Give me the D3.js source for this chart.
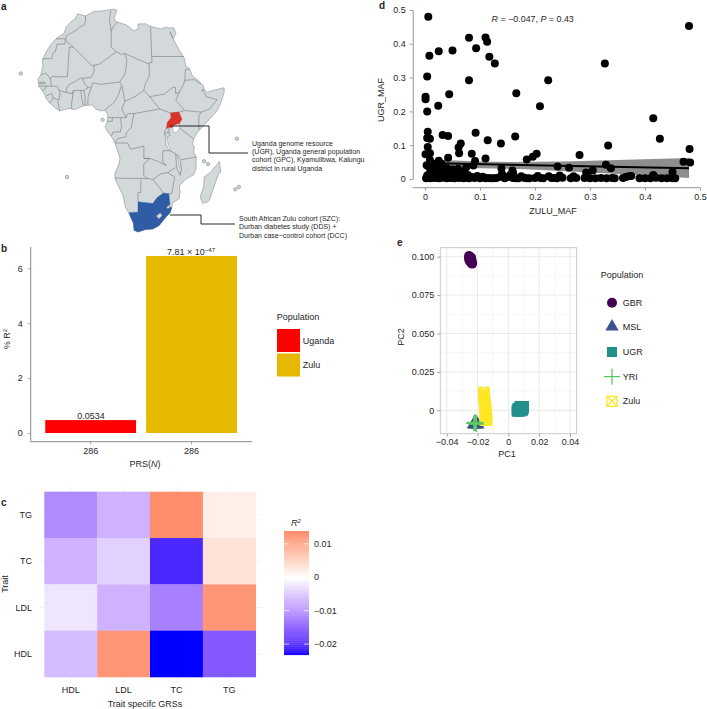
<!DOCTYPE html>
<html><head><meta charset="utf-8">
<script src="https://cdn.jsdelivr.net/npm/d3@7"></script>
<style>
html,body{margin:0;padding:0;background:#fff}
svg{display:block}
text{font-family:"Liberation Sans",Arial,sans-serif;fill:#262626}
</style></head><body>
<svg id="c" width="707" height="709"></svg>
<script>
// ---------- a: map data (lon, lat) ----------
const africaCoast=[[-5.9,35.8],[-2.2,35.1],[1,36.5],[5,36.8],[9.8,37.3],[11,37],[10.2,34.3],[11.1,33.2],[15.2,32.3],[18.5,30.3],[20,31],[20,32.5],[23,32.6],[25,31.7],[29,30.9],[31,31.5],[32.3,31.2],[34.2,31.3],[34.9,29.5],[33.6,27.8],[33,28.5],[32.6,30],[33.9,27],[35.5,24],[37,21.5],[37.3,19],[38.6,18],[39.5,15.5],[41.2,14.5],[43.2,12.5],[43.3,11.5],[44.5,10.4],[47,11.1],[51.2,11.9],[51,10.4],[49.7,7.5],[47.9,4.5],[45,1.8],[42,-1],[40.5,-2.5],[39.2,-4.7],[38.8,-6.5],[39.5,-7],[39.4,-9],[40.4,-10.5],[40.6,-14.5],[40,-16.2],[37,-17.8],[35,-19.8],[35.5,-22],[35.4,-24],[33,-25.4],[32.8,-27],[32.4,-28.6],[31,-29.9],[28.5,-32.7],[26,-33.8],[23,-34],[20,-34.8],[18.4,-34.2],[18.2,-32],[16.5,-28.6],[15.2,-26.8],[14.5,-22.9],[12,-18],[11.8,-16],[13.5,-12.5],[13.8,-10.8],[13,-8.5],[12.2,-6],[11,-3.9],[9.3,-1.8],[8.8,-0.7],[9.6,1],[9.8,3],[8.9,4.5],[7,4.4],[5.5,5],[4.4,6.3],[1.5,6.1],[-2,4.8],[-4,5.2],[-7.5,4.4],[-9,5.2],[-11.5,6.9],[-13.2,8.5],[-13.7,9.5],[-15,11],[-16.7,12.4],[-17.5,14.7],[-16.5,16],[-16.3,19],[-17,21],[-16,23.7],[-14.5,26.2],[-13,27.7],[-10,29.5],[-9.7,31.5],[-8,33.4],[-6.8,34],[-5.9,35.8]];
const countryBorders=[
[[-2.2,35.1],[-1.7,33.5],[-2,32.2],[-3.7,31.5],[-5,30.5],[-8.7,28.7],[-8.7,26],[-12,26],[-12,23.5],[-13,23],[-13,21.3],[-17,21.3]],
[[-8.7,27.7],[-13,27.7]],
[[-8.7,27.3],[-4.8,25],[-6.5,25],[-5.5,15.5],[-10,15.4],[-11.5,15.6],[-12.2,14.8],[-14.5,16.6],[-16.5,16]],
[[-12.2,14.8],[-11.4,12.4],[-16.7,12.4]],
[[-16.7,13.6],[-15,13.8],[-14,13.4],[-15,13.2],[-16.7,13.2]],
[[-13.7,12.6],[-13.7,11.7],[-15,11]],
[[-13.2,9.2],[-11,10],[-10.3,8.5],[-11.5,6.9]],
[[-10.3,8.5],[-8,8],[-7.7,10],[-8.2,11],[-9,12.3],[-11.4,12.4]],
[[-8,8],[-8.4,7.5],[-7.5,4.4]],
[[-8.2,11],[-5.5,10.4],[-5.4,11.8],[-4.3,13.2],[-3,13.6],[-2,14.2],[-0.5,15],[0.2,14.9],[3.5,15.3],[4.2,16.9],[4.2,19.2],[3.3,19],[-4.8,25]],
[[0.2,14.9],[1.3,13],[2.4,12.2],[2.3,11.7],[1,11],[0,11],[-2.8,11],[-3,10],[-5.5,10.4]],
[[-2.8,11],[-2.8,10],[-3.2,6.5],[-3,5]],
[[0,11],[0.5,8],[1.2,6.1]],
[[1,11],[1.6,9],[1.7,6.2]],
[[2.4,12.2],[3.6,11.7],[2.7,9],[2.7,6.3]],
[[3.6,11.7],[4,13.5],[7,13],[10,13.3],[13.6,13.7]],
[[4.2,19.2],[6,19.5],[12,23.5],[14,22.6],[15,23],[16,21],[15.5,16.5],[13.6,13.7]],
[[8.5,36.9],[8.3,34],[9.5,30.2],[10,25],[12,23.5]],
[[9.5,30.2],[10,31.5],[11.6,33.1]],
[[25,31.7],[25,20],[24,20],[24,19.5],[15,23]],
[[25,22],[36.9,22]],
[[24,19.5],[24,15.7],[22.5,13],[22,11],[19,9],[15.5,7.5],[15,10],[14.5,12.5],[13.6,13.7]],
[[14.2,12.5],[13.5,10],[11.8,7],[8.7,4.7]],
[[9.8,2.2],[16,2.2],[14.5,5],[15.5,7.5]],
[[11.3,2.2],[11.3,1],[9.6,1]],
[[14.2,2.2],[14.4,-1],[14,-2.4],[11.5,-2.5],[11,-3.9]],
[[16,2.2],[16.5,3.5],[18.6,3.5],[22.5,4.2],[27.4,5]],
[[18.6,3.5],[17.7,-1],[16.2,-2.5],[15.8,-4],[13.2,-4.6],[12.2,-5.8]],
[[22,11],[24,9],[27,9.5],[29,9.8],[32,12],[33,12],[33,10],[34.3,10.5]],
[[24,9],[27.4,5],[31,3.7],[34,4],[36,4.5],[33,7.8],[34.3,10.5],[36,13],[36.5,14.3],[37,17.7],[38.6,18]],
[[36.5,14.3],[40,14.5],[42.4,13]],
[[43.2,11.5],[42.4,11],[43,11],[44,9],[48,8],[45,5],[41.9,4],[36,4.5]],
[[41.9,4],[41,2.8],[41,-1.7]],
[[39.2,-4.7],[34,-1]],
[[29.6,-1.4],[29,-2.3],[29,-2.9],[30.5,-2.4],[30.5,-1]],
[[29,-2.9],[29.5,-4.5],[30.8,-3.5],[30.5,-2.4]],
[[29.5,-4.5],[29.5,-6.5],[31,-8.5],[33,-9.5],[34.5,-11.5],[40.4,-10.5]],
[[33,-9.5],[33.5,-14],[35,-16.5],[35.3,-14],[34.5,-11.5]],
[[31,-8.5],[28.5,-8.5],[28.5,-12],[29.8,-13.3],[27,-12],[24,-11],[22,-11]],
[[12.2,-6],[16.5,-6],[17.5,-8],[22,-7],[22,-11],[24,-11],[22,-13],[22,-16.5],[23.4,-17.5]],
[[11.8,-17.3],[14,-17.4],[23.4,-17.5],[25.3,-17.8],[28,-16],[30.4,-15.6],[33,-14]],
[[30.4,-15.6],[33,-17],[32.5,-22.3],[31.3,-22.4]],
[[25.3,-17.8],[29.3,-22.2]],
[[21,-18],[21,-22],[20,-22],[20,-25]]
];
const ugandaShape=[[31,3.7],[34,4],[35,1.7],[33.9,0],[33.9,-1],[30.5,-1],[29.6,-1.4],[29.9,0.6],[31.2,2.2]];
const southAfricaShape=[[16.5,-28.6],[18.2,-32],[18.4,-34.2],[20,-34.8],[23,-34],[26,-33.8],[28.5,-32.7],[31,-29.9],[32.4,-28.6],[32.9,-26.9],[32,-26.8],[32,-25.5],[31.3,-22.4],[29.3,-22.2],[27,-23.7],[25.5,-25.6],[23,-25.3],[20,-25],[20,-28.4],[17.5,-28.5]];
const lesothoShape=[[27.1,-29.6],[28.6,-28.6],[29.4,-29.5],[28.2,-30.6]];
const swazilandShape=[[30.9,-26.8],[31.9,-25.9],[32.1,-26.9],[31.3,-27.3]];
const madagascarShape=[[49.3,-12],[50.4,-15.5],[49.5,-16],[47.5,-24.5],[47,-25],[45,-25.5],[43.5,-23.5],[44.3,-20],[44,-17],[46,-15.7],[48,-13.5]];
const lakeVictoria=[[31.8,-0.4],[33.9,0.2],[34.2,-1],[33.4,-2.4],[32,-2.6]];
const lakeTanganyika=[[29.2,-3.4],[29.6,-3.4],[30,-5.5],[31,-8],[30.6,-8.4],[29.5,-6.5]];
const lakeMalawi=[[34,-9.8],[34.4,-10],[34.9,-13.5],[34.6,-14],[34.2,-12.5]];
const smallIslands=[[-26,16.5],[8,1.5],[43.4,-11.9],[45,-12.8],[55.7,-4.6],[-5.9,-17],[59.2,-20.2],[57.8,-21]];
const ugandaNote=["Uganda genome resource","(UGR), Uganda general population","cohort (GPC), Kyamulibwa, Kalungu","district in rural Uganda"];
const zuluNote=["South African Zulu cohort (SZC):","Durban diabetes study (DDS) +","Durban case\u2212control cohort (DCC)"];

// ---------- b ----------
const prsGroups=["Uganda","Zulu"];
const prsR2=[0.47,6.45];
const prsTicks=[0,2,4,6];
const prsColors=["#ff0000","#e6b800"];

// ---------- c ----------
const traits=["HDL","LDL","TC","TG"];
const heatRows={
 TG:[-0.0115,-0.0075,0.0135,0.002],
 TC:[-0.0075,-0.0045,-0.021,0.0035],
 LDL:[-0.0025,-0.0075,-0.0125,0.0125],
 HDL:[-0.0065,0.0125,-0.0232,-0.0165]};
const heatLegendTicks=[0.01,0,-0.01,-0.02];

// ---------- d ----------
const mafUpperX=[.006,.48,.11,.08,.113,.093,.025,.05,.008,.117,.127,.327,.004,.08,.224,.001,.001,.044,.166,.024,.209,.004,.415,.005,.032,.042,.092,.004,.009,.114,.164,.138,.427,.065,.061,.062,.005,.333,.481,.001,.009,.042,.085,.11,.281,.203,.196,.185,.47,.482,.003,.009,.025,.091,.088,.241,.262,.329,.338,.139,.159,.45,.305,.293,.015,.02,.03,.035,.012,.04,.05,.055,.06,.07,.075,.018,.028,.045,.065,.008,.016,.024,.033,.052,.068,.078,.14,.16,.02,.038];
const mafUpperY=[.48,.453,.419,.418,.406,.387,.378,.38,.365,.362,.342,.342,.303,.292,.292,.243,.236,.251,.254,.217,.215,.2,.18,.14,.13,.127,.137,.121,.119,.115,.126,.105,.119,.105,.093,.076,.095,.099,.089,.073,.076,.063,.075,.061,.071,.075,.066,.058,.051,.049,.041,.056,.054,.053,.04,.037,.033,.042,.032,.031,.025,.021,.025,.019,.03,.04,.045,.02,.022,.032,.028,.018,.03,.022,.035,.012,.025,.016,.015,.034,.045,.018,.012,.014,.02,.012,.015,.018,.03,.012];
const mafLowX=[.002,.004,.006,.008,.01,.012,.015,.018,.02,.023,.026,.03,.033,.036,.04,.043,.047,.05,.054,.058,.062,.066,.07,.075,.08,.085,.09,.095,.1,.105,.11,.12,.13,.137,.145,.15,.155,.16,.165,.175,.18,.185,.19,.205,.21,.215,.225,.23,.24,.245,.25,.265,.27,.275,.29,.295,.3,.31,.32,.33,.34,.345,.36,.365,.37,.375,.39,.4,.41,.415,.42,.43,.44,.45,.455,.125,.115,.17,.2,.235];
const mafLowY=[.002,.01,.003,.015,.002,.012,.004,.018,.003,.01,.002,.014,.004,.008,.002,.012,.003,.006,.002,.011,.003,.007,.002,.004,.002,.006,.003,.009,.002,.007,.002,.002,.003,.007,.002,.006,.012,.003,.002,.008,.004,.002,.002,.009,.003,.002,.008,.003,.002,.01,.004,.002,.008,.003,.003,.01,.002,.002,.003,.002,.003,.002,.003,.006,.008,.009,.002,.002,.002,.012,.004,.002,.002,.002,.002,.002,.003,.002,.003,.003];
const fitX=[0,.48];
const fitY=[.047,.032];
const bandX=[.03,.1,.16,.25,.35,.48];
const bandTop=[.056,.052,.05,.052,.056,.062];
const bandBottom=[.036,.032,.03,.024,.015,.003];
const mafTicks=[0,.1,.2,.3,.4,.5];

// ---------- e ----------
const popNames=["GBR","MSL","UGR","YRI","Zulu"];
const popColors=["#440154","#3b528b","#21908c","#5dc863","#fde725"];
const pcGBR=[[-.0255,.1005],[-.0255,.099],[-.0252,.0975],[-.0245,.0985],[-.0245,.0965],[-.024,.096],[-.0242,.0995],[-.0238,.0975],[-.0235,.0955]];
const pcMSL=[[-.0227,-.0093],[-.0198,-.0093],[-.0212,-.0076],[-.0205,-.0085],[-.022,-.0088],[-.0212,-.0093]];
const pcUGR=[[.0054,.0005],[.0054,-.0009],[.006,.0015],[.0072,.0028],[.0085,.0028],[.0101,.0028],[.0101,.001],[.0095,-.0003],[.008,-.0009],[.0066,-.0009],[.0075,.0012]];
const pcYRI=[[-.0224,-.0085],[-.0216,-.0085],[-.021,-.0082],[-.0218,-.0078],[-.0208,-.009]];
const pcZulu=[[-.0158,.0117],[-.0158,.0105],[-.0157,.0095],[-.0156,.0085],[-.0155,.0075],[-.0155,.0065],[-.0154,.0055],[-.0153,.0045],[-.0152,.0035],[-.0152,.0025],[-.0151,.0015],[-.015,.0005],[-.0149,-.0005],[-.0148,-.0015],[-.0147,-.0025],[-.0145,-.0035],[-.0144,-.0045],[-.0142,-.0055],[-.014,-.0063],[-.0146,-.0063],[-.0152,-.0063],[-.0143,-.002],[-.0146,.001]];
const pcTicksX=[-.04,-.02,0,.02,.04];
const pcTicksY=[0,.025,.05,.075,.1];

const svg=d3.select("#c");
const fmtMinus=s=>String(s).replace("-","\u2212");
const label=(g,x,y,t,o={})=>g.append("text").attr("x",x).attr("y",y).attr("font-size",o.size||9).attr("text-anchor",o.anchor||"start")
  .attr("dominant-baseline","central").attr("font-weight",o.weight||null).attr("font-style",o.style||null)
  .attr("transform",o.rot?`rotate(${o.rot} ${x} ${y})`:null).text(t);
function styleAxis(g,col,sw){g.selectAll("path.domain").attr("stroke",col).attr("stroke-width",sw);g.selectAll(".tick line").attr("stroke",col).attr("stroke-width",.7);g.selectAll("text").attr("font-size",9).attr("font-family",'"Liberation Sans",Arial,sans-serif').attr("fill","#262626");}

// panel letters
[["a",1,6],["b",1,248],["c",1,502],["d",379,5],["e",397,242]].forEach(d=>label(svg,d[1],d[2],d[0],{size:10,weight:"bold"}));

// ---------- map ----------
(function(){
 const rad=Math.PI/180, l0=20, Rx=170;
 const lat=d3.scaleLinear().domain([-34.8,11.8]).range([232,88]);
 const lonX=(x,y)=>138+Rx*Math.cos(y*rad)*Math.sin((x-l0)*rad);
 const tf=d3.geoTransform({point(x,y){this.stream.point(lonX(x,y),lat(y));}});
 const path=d3.geoPath(tf);
 const g=svg.append("g");
 const poly=c=>({type:"Polygon",coordinates:[c.concat([c[0]])]});
 const lines={type:"MultiLineString",coordinates:countryBorders};
 const mapFill="#d3d8da",mapStroke="#6c7174";
 g.append("path").attr("d",path(poly(africaCoast))).attr("fill",mapFill);
 g.append("path").attr("d",path(lines)).attr("fill","none").attr("stroke",mapStroke).attr("stroke-width",.55);
 g.append("path").attr("d",path(poly(africaCoast))).attr("fill","none").attr("stroke",mapStroke).attr("stroke-width",.45);
 g.append("path").attr("d",path(poly(madagascarShape))).attr("fill",mapFill).attr("stroke",mapStroke).attr("stroke-width",.45);
 g.append("path").attr("d",path(poly(southAfricaShape))).attr("fill","#2f5ca5").attr("stroke","#2f5ca5").attr("stroke-width",.4);
 [lesothoShape,swazilandShape].forEach(s=>g.append("path").attr("d",path(poly(s))).attr("fill",mapFill).attr("stroke",mapStroke).attr("stroke-width",.4));
 g.append("path").attr("d",path(poly(ugandaShape))).attr("fill","#d9342b").attr("stroke","#d9342b").attr("stroke-width",.3);
 g.append("path").attr("d",path(poly(lakeVictoria))).attr("fill","#fff").attr("stroke",mapStroke).attr("stroke-width",.3);
 [lakeTanganyika,lakeMalawi].forEach(s=>g.append("path").attr("d",path(poly(s))).attr("fill","#eef0f1").attr("stroke",mapStroke).attr("stroke-width",.3));
 g.selectAll("circle").data(smallIslands).join("circle").attr("cx",d=>lonX(d[0],d[1])).attr("cy",d=>lat(d[1])).attr("r",1.7).attr("fill",mapFill).attr("stroke",mapStroke).attr("stroke-width",.5);
 const leader=d3.line();
 g.append("path").attr("d",leader([[170,126],[209,126],[209,153],[248,153]])).attr("fill","none").attr("stroke","#111").attr("stroke-width",.9);
 g.append("path").attr("d",leader([[170,215],[201,215],[201,224],[235,224]])).attr("fill","none").attr("stroke","#111").attr("stroke-width",.9);
 ugandaNote.forEach((t,i)=>label(g,252,143+i*8.35,t,{size:7}));
 zuluNote.forEach((t,i)=>label(g,239,218+i*8.6,t,{size:7}));
})();

// ---------- d scatter ----------
(function(){
 const x=d3.scaleLinear().domain([0,.5]).range([425,700]);
 const y=d3.scaleLinear().domain([0,.5]).range([179,10]);
 const g=svg.append("g");
 const band=d3.area().x((d,i)=>x(bandX[i])).y0((d,i)=>y(bandBottom[i])).y1((d,i)=>y(bandTop[i]));
 g.append("path").attr("d",band(bandX)).attr("fill","#8e8e8e");
 const pts=mafUpperX.map((v,i)=>[v,mafUpperY[i]]).concat(mafLowX.map((v,i)=>[v,mafLowY[i]]));
 g.selectAll("circle").data(pts).join("circle").attr("cx",d=>x(d[0])).attr("cy",d=>y(d[1])).attr("r",4).attr("fill","#000");
 g.append("path").attr("d",d3.line().x((d,i)=>x(fitX[i])).y((d,i)=>y(fitY[i]))(fitX)).attr("stroke","#000").attr("stroke-width",2).attr("fill","none");
 const ax=g.append("g").attr("transform","translate(0,187.7)").call(d3.axisBottom(x).tickValues(mafTicks).tickFormat(d=>d===0?"0":d).tickSize(3).tickPadding(3).tickSizeOuter(0));
 const ay=g.append("g").attr("transform","translate(412.7,0)").call(d3.axisLeft(y).tickValues(mafTicks).tickFormat(d=>d===0?"0":d).tickSize(3).tickPadding(4).tickSizeOuter(0));
 styleAxis(ax,"#777",.8);styleAxis(ay,"#777",.8);
 ax.select("path.domain").attr("d","M412.7,0H700");
 label(g,553,211,"ZULU_MAF",{anchor:"middle"});
 label(g,381,100,"UGR_MAF",{anchor:"middle",rot:-90});
 const note=label(g,491.6,19,"",{size:8.9});
 note.append("tspan").attr("font-style","italic").text("R");
 note.append("tspan").text(" = \u22120.047, ");
 note.append("tspan").attr("font-style","italic").text("P");
 note.append("tspan").text(" = 0.43");
})();

// ---------- b bars ----------
(function(){
 const x=d3.scaleBand().domain(prsGroups).range([40.2,242]).paddingInner(.1).paddingOuter(.05);
 const y=d3.scaleLinear().domain([0,6]).range([433,268.3]);
 const g=svg.append("g");
 g.selectAll("rect").data(prsGroups).join("rect").attr("x",d=>x(d)).attr("width",x.bandwidth())
  .attr("y",(d,i)=>y(prsR2[i])).attr("height",(d,i)=>y(0)-y(prsR2[i])).attr("fill",(d,i)=>prsColors[i]);
 const ay=g.append("g").attr("transform","translate(30.7,0)").call(d3.axisLeft(y).tickValues(prsTicks).tickFormat(d3.format("d")).tickSize(3).tickPadding(5).tickSizeOuter(0));
 const ax=g.append("g").attr("transform","translate(0,441.7)").call(d3.axisBottom(x).tickFormat(()=> "286").tickSize(3).tickPadding(3).tickSizeOuter(0));
 styleAxis(ay,"#888",1);styleAxis(ax,"#888",1);
 ay.select("path.domain").attr("d","M0,247V441.7");
 ax.select("path.domain").attr("d","M30.7,0H252");
 label(g,91,416,"0.0534",{anchor:"middle"});
 const t=label(g,191,252,"7.81 \u00d7 10",{anchor:"middle"});
 t.append("tspan").attr("dy",-2.5).attr("font-size",6).text("\u221247");
 const xl=label(g,145,464,"PRS(",{anchor:"middle"});
 xl.append("tspan").attr("font-style","italic").text("N");xl.append("tspan").text(")");
 const yl=label(g,7,339,"% R",{anchor:"middle",rot:-90});
 yl.append("tspan").attr("dy",-2.5).attr("font-size",6).text("2");
 label(g,276.7,317,"Population");
 prsGroups.forEach((d,i)=>{
  g.append("rect").attr("x",277).attr("y",329+i*24.5).attr("width",23).attr("height",23).attr("fill",prsColors[i]);
  label(g,302.7,340.5+i*24.5,d);
 });
})();

// ---------- c heatmap ----------
(function(){
 const rows=traits.slice().reverse();
 const x=d3.scaleBand().domain(traits).range([44.3,255.7]);
 const y=d3.scaleBand().domain(rows).range([491.7,677]);
 const lim=0.0232;
 const color=d3.scaleLinear().domain([-lim,0,lim]).range(["#0000ff","#ffffff","#ff0000"]).interpolate(d3.interpolateLab);
 const g=svg.append("g");
 traits.forEach(t=>{
  g.append("line").attr("x1",x(t)+x.bandwidth()/2).attr("x2",x(t)+x.bandwidth()/2).attr("y1",486).attr("y2",683).attr("stroke","#eee").attr("stroke-width",.7);
  g.append("line").attr("y1",y(t)+y.bandwidth()/2).attr("y2",y(t)+y.bandwidth()/2).attr("x1",38).attr("x2",262).attr("stroke","#eee").attr("stroke-width",.7);
 });
 rows.forEach(r=>traits.forEach((c,i)=>{
  g.append("rect").attr("x",x(c)).attr("y",y(r)).attr("width",x.bandwidth()+.3).attr("height",y.bandwidth()+.3).attr("fill",color(heatRows[r][i]));
 }));
 traits.forEach(t=>label(g,x(t)+x.bandwidth()/2,690,t,{anchor:"middle"}));
 rows.forEach(t=>label(g,32,y(t)+y.bandwidth()/2,t,{anchor:"end"}));
 label(g,145,704,"Trait specifc GRSs",{anchor:"middle"});
 label(g,5,584,"Trait",{anchor:"middle",rot:-90});
 const ly=d3.scaleLinear().domain([0,.01]).range([577.3,543.9]);
 const top=ly.invert(531),bot=ly.invert(654.7);
 const n=60;
 d3.range(n).forEach(i=>{
  const v=bot+(top-bot)*(i+.5)/n;
  g.append("rect").attr("x",284).attr("width",25).attr("y",ly(bot+(top-bot)*(i+1)/n)).attr("height",(654.7-531)/n+.4).attr("fill",color(v));
 });
 heatLegendTicks.forEach(v=>{
  g.append("line").attr("x1",284).attr("x2",289).attr("y1",ly(v)).attr("y2",ly(v)).attr("stroke","#fff").attr("stroke-width",.7);
  g.append("line").attr("x1",304).attr("x2",309).attr("y1",ly(v)).attr("y2",ly(v)).attr("stroke","#fff").attr("stroke-width",.7);
  label(g,314,ly(v),v===0?"0":fmtMinus(v));
 });
 const rt=label(g,291,523,"R",{style:"italic"});
 rt.append("tspan").attr("dy",-2.5).attr("font-size",6).text("2");
})();

// ---------- e PCA ----------
(function(){
 const x=d3.scaleLinear().domain([-.04,.04]).range([446.7,570]);
 const y=d3.scaleLinear().domain([0,.1]).range([410.3,256.7]);
 const L=440.3,R=576.7,T=247.7,B=433.7;
 const g=svg.append("g");
 const mid=a=>a.slice(1).map((v,i)=>(v+a[i])/2);
 mid(pcTicksX).forEach(v=>g.append("line").attr("x1",x(v)).attr("x2",x(v)).attr("y1",T).attr("y2",B).attr("stroke","#f0f0f0").attr("stroke-width",.5));
 mid(pcTicksY).forEach(v=>g.append("line").attr("y1",y(v)).attr("y2",y(v)).attr("x1",L).attr("x2",R).attr("stroke","#f0f0f0").attr("stroke-width",.5));
 pcTicksX.forEach(v=>g.append("line").attr("x1",x(v)).attr("x2",x(v)).attr("y1",T).attr("y2",B).attr("stroke","#e3e3e3").attr("stroke-width",.8));
 pcTicksY.forEach(v=>g.append("line").attr("y1",y(v)).attr("y2",y(v)).attr("x1",L).attr("x2",R).attr("stroke","#e3e3e3").attr("stroke-width",.8));
 const sym=(type,size)=>d3.symbol().type(type).size(size)();
 const draw=(sel,name,px,py,color)=>{
  const p=sel.append("g").attr("transform",`translate(${px},${py})`);
  if(name==="GBR")p.append("circle").attr("r",5).attr("fill",color);
  if(name==="MSL")p.append("path").attr("d",sym(d3.symbolTriangle,77)).attr("fill",color);
  if(name==="UGR")p.append("rect").attr("x",-5).attr("y",-5).attr("width",10).attr("height",10).attr("fill",color);
  if(name==="YRI")p.append("path").attr("d","M-8,0H8M0,-8V8").attr("stroke",color).attr("stroke-width",1.3);
  if(name==="Zulu"){p.append("rect").attr("x",-5).attr("y",-5).attr("width",10).attr("height",10).attr("fill","none").attr("stroke",color).attr("stroke-width",1.3);
   p.append("path").attr("d","M-5,-5L5,5M-5,5L5,-5").attr("stroke",color).attr("stroke-width",1.3);}
 };
 [pcGBR,pcMSL,pcUGR,pcZulu].forEach((arr,k)=>{
  const i=[0,1,2,4][k];
  arr.forEach(d=>draw(g,popNames[i],x(d[0]),y(d[1]),popColors[i]));
 });
 pcYRI.forEach(d=>draw(g,"YRI",x(d[0]),y(d[1]),popColors[3]));
 g.append("rect").attr("x",L).attr("y",T).attr("width",R-L).attr("height",B-T).attr("fill","none").attr("stroke","#c4c4c4").attr("stroke-width",.9);
 const ax=g.append("g").attr("transform",`translate(0,${B})`).call(d3.axisBottom(x).tickValues(pcTicksX).tickFormat(d=>d===0?"0":fmtMinus(d)).tickSize(3).tickPadding(2).tickSizeOuter(0));
 const ay=g.append("g").attr("transform",`translate(${L},0)`).call(d3.axisLeft(y).tickValues(pcTicksY).tickFormat(d=>d===0?"0":d3.format(".3f")(d)).tickSize(3).tickPadding(3).tickSizeOuter(0));
 styleAxis(ax,"#777",0);styleAxis(ay,"#777",0);
 ax.select("path.domain").remove();ay.select("path.domain").remove();
 label(g,507,454,"PC1",{anchor:"middle"});
 label(g,400.6,337,"PC2",{anchor:"middle",rot:-90});
 label(g,600.7,275,"Population");
 const ys=[302.7,326.7,352,376.7,401.3];
 popNames.forEach((n,i)=>{draw(g,n,612,ys[i],popColors[i]);label(g,622.7,ys[i],n);});
})();
</script>
</body></html>
